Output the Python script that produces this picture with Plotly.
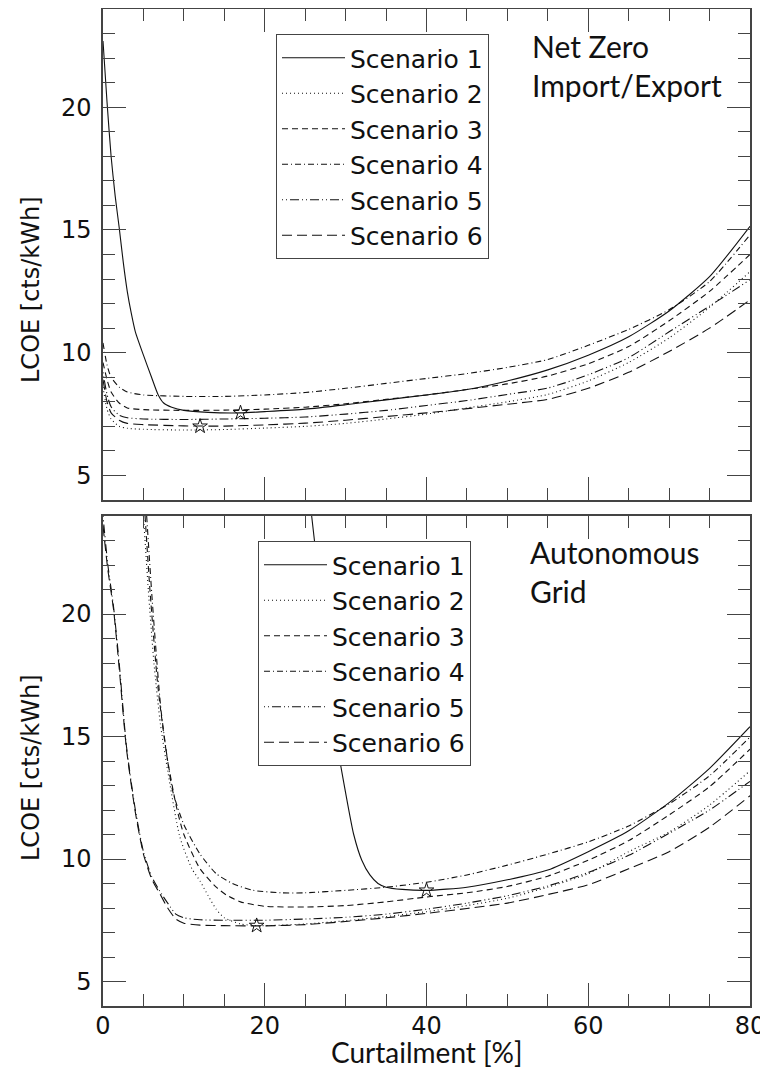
import plotly.graph_objects as go

# ---------------- data: Net Zero Import/Export (top) ----------------
nz_s1_x = [0, 0.5, 1, 1.5, 2, 2.5, 3, 3.5, 4, 5, 6, 6.8, 7.5, 8.5, 10, 13, 17, 20, 25, 30, 35, 40, 45, 50, 55, 60, 65, 70, 75, 80]
nz_s1_y = [22.7, 20.2, 18.0, 16.4, 15.1, 13.7, 12.5, 11.6, 10.85, 9.9, 9.0, 8.3, 7.95, 7.78, 7.65, 7.57, 7.55, 7.6, 7.7, 7.88, 8.08, 8.28, 8.5, 8.85, 9.3, 9.9, 10.65, 11.7, 13.1, 15.15]

nz_x = [0, 0.5, 1, 2, 3, 5, 10, 15, 20, 25, 30, 35, 40, 45, 50, 55, 60, 65, 70, 75, 80]
nz_s2_y = [8.6, 7.7, 7.3, 7.0, 6.92, 6.88, 6.85, 6.87, 6.93, 7.0, 7.12, 7.3, 7.5, 7.75, 8.0, 8.3, 8.85, 9.6, 10.6, 11.85, 13.3]
nz_s3_y = [9.6, 8.9, 8.4, 7.95, 7.75, 7.68, 7.65, 7.66, 7.7, 7.78, 7.92, 8.1, 8.28, 8.5, 8.73, 9.05, 9.55, 10.25, 11.3, 12.5, 14.0]
nz_s4_y = [10.4, 9.5, 9.0, 8.6, 8.4, 8.28, 8.22, 8.22, 8.28, 8.38, 8.55, 8.75, 8.95, 9.15, 9.4, 9.72, 10.3, 10.95, 11.75, 12.9, 14.8]
nz_s5_y = [9.2, 8.3, 7.8, 7.45, 7.35, 7.3, 7.28, 7.3, 7.33, 7.38, 7.5, 7.65, 7.85, 8.05, 8.3, 8.56, 9.1, 9.8, 10.85, 11.9, 12.97]
nz_s6_y = [8.9, 8.0, 7.55, 7.25, 7.12, 7.07, 7.02, 7.01, 7.06, 7.13, 7.25, 7.4, 7.55, 7.72, 7.9, 8.1, 8.55, 9.2, 10.05, 11.0, 12.15]

nz_star_x = [17, 12]
nz_star_y = [7.55, 7.0]

# ---------------- data: Autonomous Grid (bottom) ----------------
ag_s1_x = [25.8, 27, 28, 29, 30, 31, 32, 33, 34, 35, 37, 40, 45, 50, 55, 60, 65, 70, 75, 80]
ag_s1_y = [24.0, 20.5, 17.5, 14.6, 12.7, 11.0, 9.95, 9.35, 9.0, 8.85, 8.76, 8.72, 8.85, 9.15, 9.55, 10.3, 11.15, 12.3, 13.7, 15.4]

ag_s2_x = [5.0, 5.6, 6.3, 7.1, 8.0, 9.5, 11, 12, 13, 14, 15, 17, 19, 22, 25, 30, 35, 40, 45, 50, 55, 60, 65, 70, 75, 80]
ag_s2_y = [24.0, 21.0, 18.0, 15.5, 13.6, 10.9, 9.6, 9.1, 8.5, 7.95, 7.6, 7.35, 7.28, 7.3, 7.35, 7.48, 7.65, 7.85, 8.1, 8.4, 8.85, 9.4, 10.3, 11.1, 12.2, 13.6]

ag_s3_x = [5.2, 5.8, 6.8, 7.9, 9.1, 10, 12, 14, 15.3, 17, 20, 25, 30, 35, 40, 45, 50, 55, 60, 65, 70, 75, 80]
ag_s3_y = [24.0, 21.0, 17.0, 14.2, 12.1, 11.0, 9.6, 8.85, 8.52, 8.25, 8.07, 8.04, 8.1, 8.25, 8.45, 8.62, 8.88, 9.3, 9.95, 10.75, 11.8, 12.95, 14.48]

ag_s4_x = [5.4, 6.1, 7.2, 8.6, 10, 12, 14, 16, 18.6, 22, 25, 30, 35, 40, 45, 50, 55, 60, 65, 70, 75, 80]
ag_s4_y = [24.0, 20.5, 16.0, 12.8, 11.4, 10.2, 9.4, 9.0, 8.72, 8.62, 8.62, 8.72, 8.85, 9.05, 9.35, 9.75, 10.2, 10.7, 11.35, 12.25, 13.4, 14.98]

ag_x = [0, 0.6, 1.3, 2, 2.9, 4, 5, 6, 7, 8, 9, 10, 12, 15, 20, 25, 30, 35, 40, 45, 50, 55, 60, 65, 70, 75, 80]
ag_s5_y = [24.0, 22.0, 20.3, 18.0, 14.6, 12.0, 10.3, 9.3, 8.7, 8.2, 7.75, 7.6, 7.52, 7.5, 7.5, 7.55, 7.62, 7.75, 7.95, 8.2, 8.5, 8.9, 9.45, 10.15, 11.05, 12.0, 13.17]
ag_s6_y = [23.6, 21.8, 20.2, 17.8, 14.5, 11.9, 10.2, 9.2, 8.6, 8.0, 7.55, 7.38, 7.3, 7.28, 7.27, 7.32, 7.45, 7.6, 7.78, 7.98, 8.2, 8.55, 8.95, 9.6, 10.3, 11.3, 12.58]

ag_star_x = [40, 19]
ag_star_y = [8.72, 7.28]

scenario_names = ["Scenario 1", "Scenario 2", "Scenario 3", "Scenario 4", "Scenario 5", "Scenario 6"]
x_ticks = [0, 20, 40, 60, 80]
y_ticks = [5, 10, 15, 20]

# ---------------- styles ----------------
dashes = ["solid", "1px,3px", "6px,4px", "6px,3px,1px,3px", "1px,3px,1px,3px,9px,3px", "10px,5px"]
line_color = "#111111"
axis_color = "#444444"
tick_font = dict(family="DejaVu Sans", size=24, color="#111111")

fig = go.Figure()

top_sets = [(nz_s1_x, nz_s1_y), (nz_x, nz_s2_y), (nz_x, nz_s3_y), (nz_x, nz_s4_y), (nz_x, nz_s5_y), (nz_x, nz_s6_y)]
bot_sets = [(ag_s1_x, ag_s1_y), (ag_s2_x, ag_s2_y), (ag_s3_x, ag_s3_y), (ag_s4_x, ag_s4_y), (ag_x, ag_s5_y), (ag_x, ag_s6_y)]

for i, (xs, ys) in enumerate(top_sets):
    fig.add_trace(go.Scatter(x=xs, y=ys, mode="lines", name=scenario_names[i],
                             line=dict(color=line_color, width=1.1, dash=dashes[i], shape="spline", smoothing=0.6),
                             xaxis="x", yaxis="y", legend="legend"))
fig.add_trace(go.Scatter(x=nz_star_x, y=nz_star_y, mode="markers", showlegend=False,
                         marker=dict(symbol="star-open", size=11, color=line_color, line=dict(width=1)),
                         xaxis="x", yaxis="y"))

for i, (xs, ys) in enumerate(bot_sets):
    fig.add_trace(go.Scatter(x=xs, y=ys, mode="lines", name=scenario_names[i],
                             line=dict(color=line_color, width=1.1, dash=dashes[i], shape="spline", smoothing=0.6),
                             xaxis="x2", yaxis="y2", legend="legend2"))
fig.add_trace(go.Scatter(x=ag_star_x, y=ag_star_y, mode="markers", showlegend=False,
                         marker=dict(symbol="star-open", size=11, color=line_color, line=dict(width=1)),
                         xaxis="x2", yaxis="y2"))

# page body has an 8px default margin: size the figure so it fits the window
OFF = 8
W, H = 768 - OFF, 1070 - OFF
ml, mr, mt, mb = 103 - OFF, 18, 9 - OFF, 64
plot_h = H - mt - mb
def py(p):
    """screen pixel y -> paper y"""
    return (H - mb - (p - OFF)) / plot_h
def px(p):
    """screen pixel x -> paper x"""
    return (p - OFF - ml) / (W - ml - mr)

common_x = dict(range=[0, 80], tickvals=x_ticks, ticks="inside", ticklen=23, tickwidth=1, tickcolor=axis_color,
                minor=dict(ticks="inside", ticklen=12, dtick=5, tick0=0, tickcolor=axis_color, tickwidth=1),
                showline=True, linecolor=axis_color, linewidth=1.5, mirror="allticks", showgrid=False,
                zeroline=False, tickfont=tick_font, automargin=False, ticklabelstandoff=-3)
common_y = dict(range=[4, 24], tickvals=y_ticks, ticks="inside", ticklen=23, tickwidth=1, tickcolor=axis_color,
                minor=dict(ticks="inside", ticklen=12, dtick=1, tick0=0, tickcolor=axis_color, tickwidth=1),
                showline=True, linecolor=axis_color, linewidth=1.5, mirror="allticks", showgrid=False,
                zeroline=False, tickfont=tick_font, automargin=False, ticklabelstandoff=5)

legend_common = dict(font=dict(family="DejaVu Sans", size=25, color="#111111"), bgcolor="white",
                     bordercolor=axis_color, borderwidth=1, xanchor="left", yanchor="top",
                     tracegroupgap=0, itemclick=False, itemwidth=63)

fig.update_layout(
    width=W, height=H, margin=dict(l=ml, r=mr, t=mt, b=mb, autoexpand=False),
    plot_bgcolor="white", paper_bgcolor="white",
    xaxis=dict(domain=[0, 1], anchor="y", showticklabels=False, **common_x),
    yaxis=dict(domain=[py(500), 1], anchor="x", **common_y),
    xaxis2=dict(domain=[0, 1], anchor="y2", showticklabels=True, **common_x),
    yaxis2=dict(domain=[0, py(516)], anchor="x2", **common_y),
    legend=dict(x=px(276), y=py(34), **legend_common),
    legend2=dict(x=px(258), y=py(541), **legend_common),
    showlegend=True,
)

ann_font = dict(family="Lato", size=30, color="#111111")
fig.add_annotation(text="Net Zero<br>Import/Export", xref="paper", yref="paper", x=px(530), y=py(26),
                   xanchor="left", yanchor="top", align="left", showarrow=False, font=ann_font)
fig.add_annotation(text="Autonomous<br>Grid", xref="paper", yref="paper", x=px(528), y=py(532),
                   xanchor="left", yanchor="top", align="left", showarrow=False, font=ann_font)
fig.add_annotation(text="Curtailment [%]", xref="paper", yref="paper", x=px(427), y=py(1052),
                   xanchor="center", yanchor="middle", showarrow=False,
                   font=dict(family="Lato", size=28, color="#111111"))
ylab_font = dict(family="DejaVu Sans", size=24, color="#111111")
fig.add_annotation(text="LCOE [cts/kWh]", xref="paper", yref="paper", x=px(31), y=py(290),
                   xanchor="center", yanchor="middle", textangle=-90, showarrow=False, font=ylab_font)
fig.add_annotation(text="LCOE [cts/kWh]", xref="paper", yref="paper", x=px(31), y=py(768),
                   xanchor="center", yanchor="middle", textangle=-90, showarrow=False, font=ylab_font)

fig.write_html("out.html")
